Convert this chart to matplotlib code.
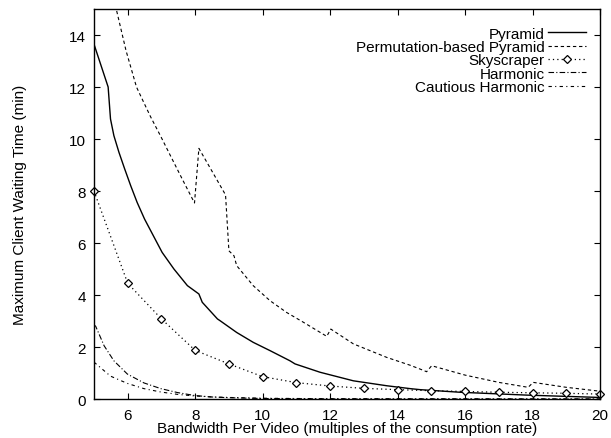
import numpy as np
import matplotlib.pyplot as plt

plt.rcParams['font.family'] = ['Liberation Sans', 'DejaVu Sans']

# values
pyr_x = [5.0, 5.42, 5.49, 5.59, 5.74, 5.91, 6.09, 6.28, 6.50, 6.76, 7.02, 7.37, 7.77,
         8.11, 8.21, 8.66, 8.74, 9.23, 9.72, 10.22, 10.81, 10.96, 11.70, 12.69, 13.68,
         14.37, 14.67, 15.85, 17.83, 20.0]
pyr_y = [13.65, 12.0, 10.77, 10.13, 9.49, 8.85, 8.2, 7.56, 6.92, 6.28, 5.64, 5.0, 4.36,
         4.04, 3.72, 3.08, 3.01, 2.56, 2.18, 1.86, 1.47, 1.35, 1.03, 0.70, 0.51,
         0.40, 0.36, 0.26, 0.15, 0.06]

perm_x = [5.45, 5.66, 5.95, 6.26, 6.46, 6.68, 6.98, 7.27, 7.62, 7.98, 8.11, 8.46, 8.90,
          9.0, 9.15, 9.23, 9.72, 10.22, 10.71, 11.21, 11.90, 12.02, 12.69, 13.68, 14.37,
          14.67, 14.86, 15.01, 16.0, 17.0, 17.87, 18.02, 19.0, 20.0]
perm_y = [16.2, 15.0, 13.4, 12.0, 11.45, 10.85, 10.1, 9.35, 8.45, 7.54, 9.64, 8.85, 7.85,
          5.70, 5.51, 5.13, 4.36, 3.78, 3.33, 2.95, 2.41, 2.69, 2.12, 1.6, 1.3,
          1.15, 1.05, 1.28, 0.92, 0.64, 0.45, 0.64, 0.45, 0.30]

sky_x = list(range(5, 21))
sky_y = [8.0, 4.45, 3.08, 1.87, 1.35, 0.86, 0.63, 0.5, 0.41, 0.36, 0.32, 0.29, 0.26,
         0.24, 0.22, 0.19]

harm_x = [5.0, 5.05, 5.30, 5.59, 5.99, 6.48, 6.98, 7.47, 7.96, 8.46, 9.0, 10.0, 12.0, 20.0]
harm_y = [2.85, 2.80, 2.05, 1.47, 0.96, 0.62, 0.40, 0.25, 0.14, 0.08, 0.05, 0.02, 0.005, 0.0]

caut_x = [5.0, 5.49, 5.99, 6.48, 6.98, 7.47, 7.96, 8.5, 9.0, 10.0, 12.0, 20.0]
caut_y = [1.42, 0.88, 0.60, 0.40, 0.27, 0.18, 0.12, 0.08, 0.06, 0.03, 0.01, 0.0]

fig = plt.figure(figsize=(6.11, 4.39), dpi=100)
ax = fig.add_axes([0.1538, 0.0888, 0.8282, 0.8884])

ax.plot(pyr_x, pyr_y, color='black', lw=1.0, label='Pyramid')
ax.plot(perm_x, perm_y, color='black', lw=0.8, dashes=(3, 2.5),
        label='Permutation-based Pyramid')
ax.plot(sky_x, sky_y, color='black', lw=0.9, ls=(0, (1, 2.5)), marker='D',
        markersize=4.2, markerfacecolor='white', markeredgewidth=0.9, clip_on=False,
        label='Skyscraper')
ax.plot(harm_x, harm_y, color='black', lw=0.8, dashes=(5, 2, 1, 2), label='Harmonic')
ax.plot(caut_x, caut_y, color='black', lw=0.8, dashes=(3, 3, 1, 3),
        label='Cautious Harmonic')

ax.set_xlim(5, 20)
ax.set_ylim(0, 15)
ax.set_xticks(np.arange(6, 21, 2))
ax.set_yticks(np.arange(0, 15, 2))
ax.tick_params(direction='in', top=True, right=True, length=4, width=0.8,
               labelsize=11, pad=6)
ax.tick_params(axis='x', pad=6.5)
for s in ax.spines.values():
    s.set_linewidth(1.0)

ax.set_xlabel('Bandwidth Per Video (multiples of the consumption rate)',
              fontsize=11, labelpad=-0.5)
ax.set_ylabel('Maximum Client Waiting Time (min)', fontsize=11, labelpad=30)

leg = ax.legend(loc='upper right', bbox_to_anchor=(0.972, 0.955), frameon=False,
                markerfirst=False, fontsize=11, labelspacing=-0.04, handlelength=2.5,
                handletextpad=0.2, borderpad=0, borderaxespad=0)

fig.savefig('out.png', dpi=100)
